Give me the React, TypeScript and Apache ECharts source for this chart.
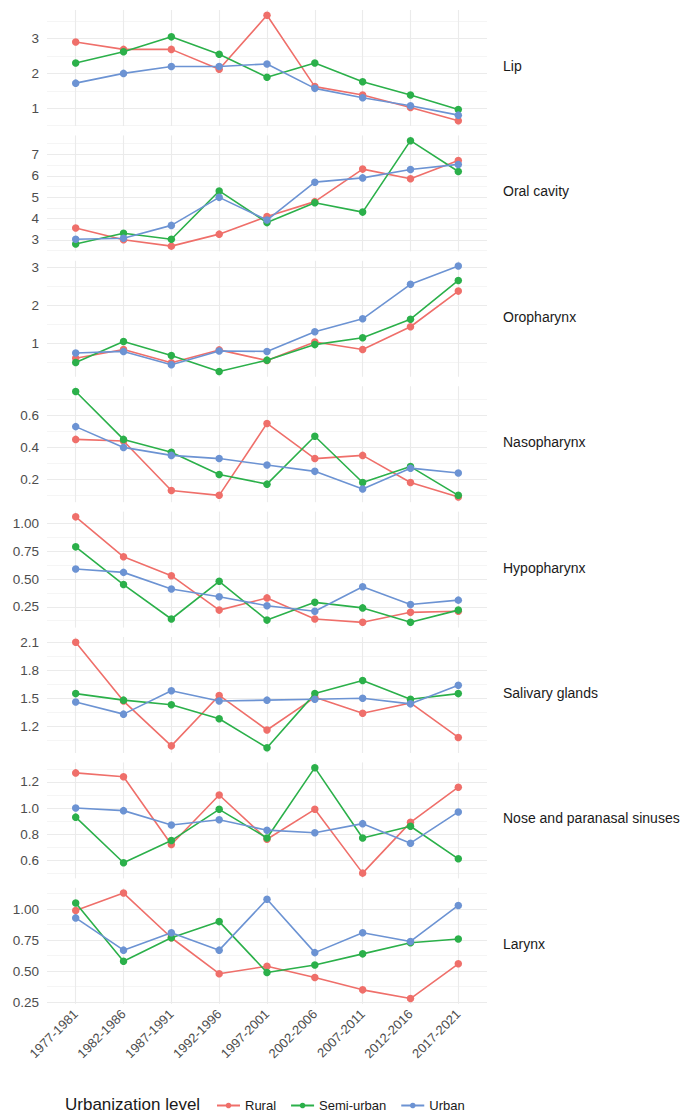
import React, { useEffect, useRef } from "react";
import * as echarts from "echarts";

const periods = ["1977-1981", "1982-1986", "1987-1991", "1992-1996", "1997-2001", "2002-2006", "2007-2011", "2012-2016", "2017-2021"];
const groups = ["Rural", "Semi-urban", "Urban"];
const groupColors = ["#EF6F6A", "#2BB04A", "#6C93D3"];
const sites = ["Lip", "Oral cavity", "Oropharynx", "Nasopharynx", "Hypopharynx", "Salivary glands", "Nose and paranasal sinuses", "Larynx"];

// Lip
const lipRural = [2.90, 2.69, 2.69, 2.12, 3.67, 1.62, 1.38, 1.02, 0.64];
const lipSemi = [2.30, 2.62, 3.05, 2.55, 1.89, 2.30, 1.76, 1.38, 0.96];
const lipUrban = [1.72, 2.00, 2.20, 2.20, 2.27, 1.57, 1.30, 1.07, 0.80];
// Oral cavity
const oralRural = [3.56, 3.01, 2.71, 3.27, 4.09, 4.79, 6.31, 5.86, 6.71];
const oralSemi = [2.81, 3.31, 3.03, 5.29, 3.81, 4.74, 4.30, 7.64, 6.20];
const oralUrban = [3.03, 3.08, 3.68, 4.99, 3.93, 5.70, 5.90, 6.29, 6.53];
// Oropharynx
const oroRural = [0.60, 0.83, 0.48, 0.82, 0.54, 1.03, 0.83, 1.43, 2.37];
const oroSemi = [0.49, 1.04, 0.67, 0.25, 0.55, 0.96, 1.14, 1.63, 2.65];
const oroUrban = [0.74, 0.78, 0.43, 0.79, 0.78, 1.30, 1.64, 2.55, 3.03];
// Nasopharynx
const nasoRural = [0.45, 0.44, 0.13, 0.10, 0.55, 0.33, 0.35, 0.18, 0.09];
const nasoSemi = [0.75, 0.45, 0.37, 0.23, 0.17, 0.47, 0.18, 0.28, 0.10];
const nasoUrban = [0.53, 0.40, 0.35, 0.33, 0.29, 0.25, 0.14, 0.27, 0.24];
// Hypopharynx
const hypoRural = [1.06, 0.70, 0.53, 0.22, 0.33, 0.14, 0.11, 0.20, 0.21];
const hypoSemi = [0.79, 0.45, 0.14, 0.48, 0.13, 0.29, 0.24, 0.11, 0.22];
const hypoUrban = [0.59, 0.56, 0.41, 0.34, 0.26, 0.21, 0.43, 0.27, 0.31];
// Salivary glands
const salRural = [2.10, 1.47, 0.99, 1.53, 1.16, 1.51, 1.34, 1.45, 1.08];
const salSemi = [1.55, 1.48, 1.43, 1.28, 0.97, 1.55, 1.69, 1.49, 1.55];
const salUrban = [1.46, 1.33, 1.58, 1.47, 1.48, 1.49, 1.50, 1.44, 1.64];
// Nose and paranasal sinuses
const noseRural = [1.27, 1.24, 0.72, 1.10, 0.76, 0.99, 0.50, 0.89, 1.16];
const noseSemi = [0.93, 0.58, 0.75, 0.99, 0.77, 1.31, 0.77, 0.86, 0.61];
const noseUrban = [1.00, 0.98, 0.87, 0.91, 0.83, 0.81, 0.88, 0.73, 0.97];
// Larynx
const larRural = [0.99, 1.13, 0.77, 0.48, 0.54, 0.45, 0.35, 0.28, 0.56];
const larSemi = [1.05, 0.58, 0.77, 0.90, 0.49, 0.55, 0.64, 0.73, 0.76];
const larUrban = [0.93, 0.67, 0.81, 0.67, 1.08, 0.65, 0.81, 0.74, 1.03];

// tick labels per panel
const lipTicks = [1, 2, 3];
const oralTicks = [3, 4, 5, 6, 7];
const oroTicks = [1, 2, 3];
const nasoTicks = [0.2, 0.4, 0.6];
const hypoTicks = [0.25, 0.5, 0.75, 1.0];
const salTicks = [1.2, 1.5, 1.8, 2.1];
const noseTicks = [0.6, 0.8, 1.0, 1.2];
const larTicks = [0.25, 0.5, 0.75, 1.0];
const tickDecimals = [0, 0, 0, 1, 2, 1, 1, 2];

const siteData = [
  [lipRural, lipSemi, lipUrban],
  [oralRural, oralSemi, oralUrban],
  [oroRural, oroSemi, oroUrban],
  [nasoRural, nasoSemi, nasoUrban],
  [hypoRural, hypoSemi, hypoUrban],
  [salRural, salSemi, salUrban],
  [noseRural, noseSemi, noseUrban],
  [larRural, larSemi, larUrban],
];
const siteTicks = [lipTicks, oralTicks, oroTicks, nasoTicks, hypoTicks, salTicks, noseTicks, larTicks];

const FONT = "Liberation Sans, Arial, Helvetica, sans-serif";

export default function App() {
  const ref = useRef<HTMLDivElement>(null);
  useEffect(() => {
    if (!ref.current) return;
    const chart = echarts.init(ref.current, null, { renderer: "svg" });
    const panelTop0 = 10;
    const pitch = 125.4;
    const panelH = 116;
    const left = 47;
    const right = 680 - 487;

    const grids: any[] = [];
    const xAxes: any[] = [];
    const yAxes: any[] = [];
    const series: any[] = [];
    const graphics: any[] = [];
    const xIdx = periods.map((_, i) => i);

    sites.forEach((site, p) => {
      const top = panelTop0 + p * pitch;
      grids.push({ left, right, top, height: panelH, containLabel: false });
      const all = siteData[p].flat();
      const lo = Math.min(...all);
      const hi = Math.max(...all);
      const pad = (hi - lo) * 0.05;
      const ymin = lo - pad;
      const ymax = hi + pad;
      const majors = siteTicks[p];
      const step = majors[1] - majors[0];
      const minors: number[] = [];
      for (let k = -1; k < majors.length; k++) {
        const v = majors[0] + (k + 0.5) * step;
        if (v >= ymin && v <= ymax) minors.push(+v.toFixed(6));
      }
      const isLast = p === sites.length - 1;
      xAxes.push({
        type: "value",
        gridIndex: p,
        min: -0.6,
        max: 8.6,
        axisLine: { show: false },
        axisTick: { show: false, customValues: xIdx },
        splitLine: { show: true, lineStyle: { color: "#EBEBEB", width: 1.1 } },
        axisLabel: isLast
          ? {
              show: true,
              customValues: xIdx,
              formatter: (v: number) => periods[Math.round(v)],
              rotate: 45,
              fontSize: 13,
              fontFamily: FONT,
              color: "#4D4D4D",
              margin: 8,
            }
          : { show: false },
      });
      yAxes.push({
        type: "value",
        gridIndex: p,
        position: "left",
        min: ymin,
        max: ymax,
        axisLine: { show: false },
        axisTick: { show: false, customValues: majors },
        splitLine: { show: true, lineStyle: { color: "#EBEBEB", width: 1.1 } },
        axisLabel: {
          show: true,
          customValues: majors,
          formatter: (v: number) => v.toFixed(tickDecimals[p]),
          fontSize: 13.5,
          fontFamily: FONT,
          color: "#4D4D4D",
          margin: 8,
        },
      });
      yAxes.push({
        type: "value",
        gridIndex: p,
        position: "left",
        min: ymin,
        max: ymax,
        axisLine: { show: false },
        axisTick: { show: false, customValues: minors },
        splitLine: { show: true, lineStyle: { color: "#F3F3F3", width: 0.8 } },
        axisLabel: { show: false },
      });
      groups.forEach((g, gi) => {
        series.push({
          type: "line",
          name: g,
          xAxisIndex: p,
          yAxisIndex: p * 2,
          data: siteData[p][gi].map((v, i) => [i, v]),
          symbol: "circle",
          symbolSize: 7.5,
          showSymbol: true,
          itemStyle: { color: groupColors[gi] },
          lineStyle: { color: groupColors[gi], width: 1.6 },
          z: 3 + gi,
        });
      });
      graphics.push({
        type: "text",
        left: 503,
        top: top + panelH / 2 - 9,
        style: {
          text: site,
          fontSize: 14,
          fontFamily: FONT,
          fill: "#1A1A1A",
        },
      });
    });

    graphics.push({
      type: "text",
      left: 65,
      top: 1096,
      style: {
        text: "Urbanization level",
        fontSize: 17,
        fontFamily: FONT,
        fill: "#1A1A1A",
      },
    });

    chart.setOption({
      animation: false,
      backgroundColor: "#FFFFFF",
      grid: grids,
      xAxis: xAxes,
      yAxis: yAxes,
      series,
      graphic: graphics,
      legend: {
        data: groups,
        left: 214,
        top: 1097,
        padding: 2,
        itemWidth: 23,
        itemHeight: 7,
        itemGap: 14,
        textStyle: { fontSize: 13, fontFamily: FONT, color: "#1A1A1A" },
      },
    });
    return () => chart.dispose();
  }, []);
  return (
    <div
      ref={ref}
      style={{ position: "absolute", left: 0, top: 0, width: 680, height: 1118 }}
    />
  );
}
